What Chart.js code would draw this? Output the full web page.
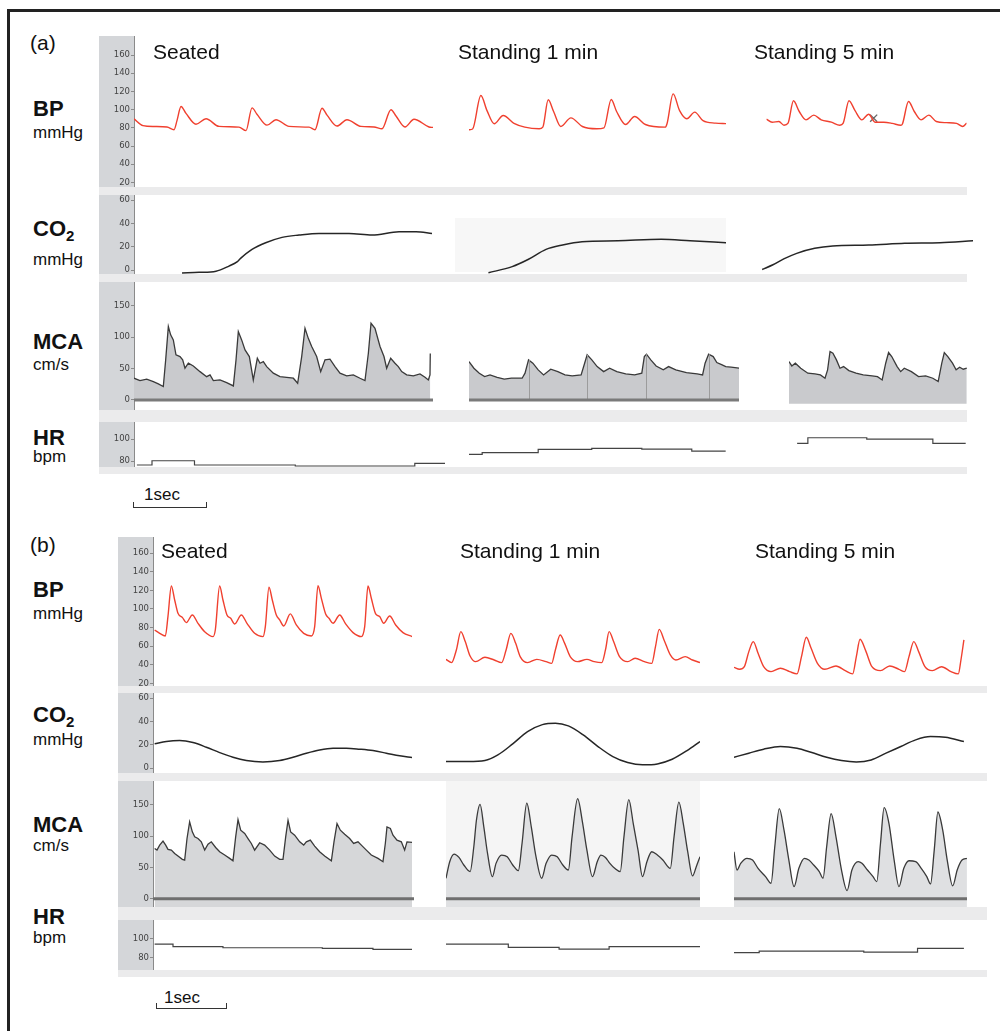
<!DOCTYPE html>
<html>
<head>
<meta charset="utf-8">
<script src="https://cdn.jsdelivr.net/npm/chart.js@4.4.1/dist/chart.umd.min.js"></script>
<style>
  body { margin: 0; background: #fff; }
  #page { position: relative; width: 1000px; height: 1031px; overflow: hidden; font-family: "Liberation Sans", Arial, sans-serif; color: #111; }
  #page canvas { position: absolute; }
  .box { position: absolute; }
  .txt { position: absolute; line-height: 1; white-space: nowrap; }
  .sig { font-weight: bold; font-size: 22px; }
  .unit { font-size: 17px; }
  .cond { font-size: 21px; }
  .sub { font-size: 15px; position: relative; top: 5px; }
  .bar { position: absolute; border: 1.5px solid #333; border-top: none; height: 5px; }
</style>
</head>
<body>
<div id="page"></div>
<script>
// ---- data: [time in s, value] ----
const conditions = ['Seated', 'Standing 1 min', 'Standing 5 min'];

const bpTicks = [20, 40, 60, 80, 100, 120, 140, 160];
const co2Ticks = [0, 20, 40, 60];
const mcaTicks = [0, 50, 100, 150];
const hrTicks = [80, 100];

// panel (a)
const bpSeatedA = [[0,90],[0.125,82.5],[0.278,81.5],[0.458,81],[0.556,78],[0.597,88],[0.653,103.5],[0.722,96],[0.861,84],[1.0,90],[1.181,81.6],[1.458,80.8],[1.556,77],[1.639,102],[1.708,95],[1.847,83],[1.972,89],[2.153,81.6],[2.431,80.8],[2.514,78],[2.611,101.5],[2.681,94],[2.819,82],[2.958,89],[3.153,81.6],[3.333,81],[3.444,79],[3.569,100],[3.639,93],[3.764,81],[3.889,89.5],[4.097,81],[4.153,80.5]];
const bpStand1A = [[0,77.9],[0.05,78.8],[0.165,115.6],[0.25,99],[0.35,84.5],[0.475,93.6],[0.625,85],[0.775,80.8],[0.975,79],[1.025,80.8],[1.1,110.9],[1.175,98],[1.275,81.5],[1.415,91],[1.575,81.5],[1.775,79],[1.875,80],[1.975,111.2],[2.05,98],[2.175,83.7],[2.3,92.5],[2.45,83.7],[2.725,80.8],[2.75,84.5],[2.835,117.4],[2.925,99],[3.025,90],[3.135,97.3],[3.25,88],[3.425,85.2],[3.575,84.6]];
const bpStand5A = [[0,88.9],[0.085,85],[0.185,86],[0.26,81.5],[0.32,84],[0.4,110.9],[0.485,98],[0.585,88],[0.7,93.6],[0.81,88],[0.96,85.2],[1.085,81.5],[1.135,84],[1.22,110.9],[1.31,99],[1.41,88],[1.51,94.7],[1.61,85],[1.735,85],[1.86,83.7],[1.985,81.5],[2.01,83],[2.1,110],[2.185,98],[2.285,88],[2.4,93.6],[2.51,86],[2.66,84.6],[2.81,83.7],[2.9,80],[2.96,84]];
const artefactA = [[1.585, 90]];

const co2SeatedA = [[0.667,-2.5],[0.903,-2],[1.139,-1],[1.319,3.4],[1.431,7],[1.48,10],[1.639,17.7],[1.829,23.4],[2.056,28],[2.292,30],[2.569,31.4],[2.986,31.4],[3.306,30],[3.681,32.8],[3.917,32.8],[4.139,31.4]];
const co2Stand1A = [[0.27,-2.3],[0.6,2.9],[0.82,9],[1.07,17.7],[1.3,21.5],[1.57,24.3],[2.07,25.1],[2.67,26.3],[3.07,25.1],[3.57,23.4]];
const co2Stand5A = [[0.03,0.5],[0.18,4.5],[0.33,9.5],[0.51,14.3],[0.76,18.6],[1.01,20.6],[1.51,21.4],[2.01,22.9],[2.5,23.4],[2.96,25.1]];

const mcaSeatedA = [[0,34.5],[0.083,30.8],[0.176,33],[0.269,29],[0.338,25.5],[0.407,21.2],[0.44,63.7],[0.477,116.8],[0.509,103.5],[0.546,95.5],[0.583,71.7],[0.639,69],[0.676,63.7],[0.708,50.4],[0.755,58.4],[0.824,54],[0.917,45],[1.009,37],[1.056,39.8],[1.102,30.8],[1.194,31.8],[1.287,27.6],[1.38,22.3],[1.417,63.7],[1.449,108.8],[1.495,95.5],[1.542,79.6],[1.602,69],[1.657,31.8],[1.713,66.3],[1.75,58.4],[1.796,61],[1.843,53],[1.935,42.5],[2.028,37],[2.12,36],[2.213,34.5],[2.273,26.5],[2.329,69],[2.375,114],[2.421,98],[2.468,85],[2.537,69],[2.593,45],[2.653,63.7],[2.722,64.8],[2.792,53],[2.861,42.5],[2.954,38.2],[3.046,39.8],[3.139,34.5],[3.208,30.8],[3.255,74.3],[3.292,122],[3.347,114],[3.417,85],[3.472,69],[3.509,50.4],[3.565,66.3],[3.625,58.4],[3.671,53],[3.718,45],[3.787,39.8],[3.88,38.2],[3.972,41.4],[4.042,36],[4.088,31.8],[4.111,39.8],[4.115,74]];
const mcaStand1A = [[0,61],[0.068,50.4],[0.143,42.5],[0.217,37],[0.292,39.8],[0.391,36],[0.49,33],[0.589,34.5],[0.738,34.5],[0.778,42.5],[0.827,63.7],[0.887,58.4],[0.961,47.8],[1.036,39.8],[1.135,48.8],[1.234,45],[1.333,39.8],[1.433,38.2],[1.557,39.8],[1.606,58.4],[1.641,71.7],[1.706,63.7],[1.78,53],[1.87,45],[1.953,50.4],[2.053,45],[2.177,41.4],[2.301,39.8],[2.4,42.5],[2.435,69],[2.465,72.7],[2.525,63.7],[2.599,54],[2.698,47.8],[2.772,53],[2.872,47.8],[3.02,43.5],[3.169,41.4],[3.244,39.8],[3.279,58.4],[3.328,72.7],[3.392,69],[3.442,59.4],[3.516,55.7],[3.566,53],[3.64,52],[3.754,50.4]];
const beatsStand1A = [0.827, 1.641, 2.465, 3.328];
const mcaStand5A = [[0,61],[0.039,54],[0.088,58.4],[0.163,50.4],[0.262,42.5],[0.361,41.4],[0.436,39.8],[0.5,34.5],[0.536,47.8],[0.57,77],[0.61,74.3],[0.659,63.7],[0.708,50.4],[0.758,53],[0.832,46.7],[0.931,42.5],[1.031,39.8],[1.155,38.2],[1.229,37],[1.294,31.8],[1.343,58.4],[1.383,75.4],[1.427,69],[1.502,53],[1.551,45],[1.601,50.4],[1.7,45],[1.799,37],[1.898,38.2],[1.998,34.5],[2.072,29.2],[2.122,58.4],[2.157,75.4],[2.206,69],[2.271,58.4],[2.321,47.8],[2.37,52],[2.42,48.8],[2.469,50.4]];

const hrSeatedA = [[0.04,76.4],[0.25,80.3],[0.84,76.4],[2.24,75.5],[3.9,77.9],[4.32,77.9]];
const hrStand1A = [[0,86],[0.183,87.6],[0.961,90.6],[1.705,91.5],[2.4,90.9],[3.094,89.1],[3.565,89.1]];
const hrStand5A = [[0.113,96],[0.262,101.2],[1.08,100],[1.998,96],[2.454,96]];

// panel (b)
const bpSeatedB = [[0.024,77.4],[0.097,73.8],[0.179,71],[0.217,92],[0.266,124.8],[0.314,109.7],[0.362,95.4],[0.425,91],[0.483,85.3],[0.57,93.6],[0.652,84.6],[0.749,75.6],[0.87,70.3],[0.903,77.4],[0.966,124.8],[1.014,109.7],[1.072,93.6],[1.126,90],[1.184,83.9],[1.28,93.6],[1.362,84.6],[1.473,73.8],[1.594,70.3],[1.628,81],[1.681,123.4],[1.729,109.7],[1.787,93.6],[1.836,88.2],[1.894,81.7],[1.99,94.7],[2.077,82.8],[2.184,73.8],[2.295,71],[2.343,81],[2.391,125.2],[2.44,111.5],[2.502,94.7],[2.551,90],[2.609,84.6],[2.705,93.6],[2.792,83.9],[2.899,74.6],[3.019,70.3],[3.068,81],[3.116,124.8],[3.164,111.5],[3.227,94.7],[3.285,91.8],[3.343,84.6],[3.43,92.5],[3.517,82.8],[3.623,74.6],[3.754,70.3]];
const bpStand1B = [[0,45.8],[0.081,42.3],[0.15,55.9],[0.215,75.6],[0.279,64.9],[0.349,49.4],[0.43,43.3],[0.564,48],[0.699,45.1],[0.806,42.3],[0.871,55.9],[0.94,73.8],[1.01,63],[1.075,48.7],[1.182,42.3],[1.316,45.8],[1.451,43.3],[1.531,41.5],[1.585,55.9],[1.655,72],[1.72,63],[1.8,48.7],[1.908,43.3],[2.042,45.8],[2.149,43.3],[2.257,42.3],[2.311,55.9],[2.364,75.6],[2.429,64.9],[2.515,48.7],[2.633,43.3],[2.74,46.9],[2.875,43.3],[2.982,41.5],[3.036,59.5],[3.09,78.1],[3.16,66.7],[3.251,50.5],[3.332,45.1],[3.466,48.7],[3.573,45.1],[3.681,42.3]];
const bpStand5B = [[0,37.2],[0.081,35.1],[0.15,37.9],[0.215,54.1],[0.279,64.9],[0.349,52.3],[0.43,37.9],[0.537,32.6],[0.672,36.2],[0.806,32.6],[0.913,30.1],[0.978,48.7],[1.048,69.5],[1.118,57.7],[1.209,41.5],[1.316,35.1],[1.478,38.7],[1.612,33.6],[1.72,30.1],[1.773,48.7],[1.827,67.4],[1.908,55.2],[1.999,37.9],[2.123,33.6],[2.257,38.7],[2.391,35.1],[2.472,32.6],[2.536,48.7],[2.606,64.9],[2.676,54.1],[2.767,37.9],[2.875,33.6],[3.009,37.9],[3.144,32.6],[3.251,30.1],[3.289,45.1],[3.332,66.7]];

const co2SeatedB = [[0.024,20.9],[0.193,22.9],[0.386,23.7],[0.58,22],[0.773,18],[0.966,13.4],[1.159,9.4],[1.353,6.6],[1.594,5.4],[1.836,6.6],[2.029,9.4],[2.222,12.9],[2.415,15.7],[2.609,17.1],[2.802,17.1],[2.995,16.3],[3.188,15.1],[3.382,12.9],[3.575,10.6],[3.754,9.1]];
const co2Stand1B = [[0,5.7],[0.322,5.7],[0.564,6.6],[0.752,11.4],[0.967,20.9],[1.182,31.4],[1.397,37.4],[1.585,38.6],[1.773,36.3],[1.988,28.6],[2.203,18.6],[2.418,10],[2.633,4.9],[2.848,2.9],[3.063,3.7],[3.278,7.7],[3.493,15.1],[3.681,22.9]];
const co2Stand5B = [[0,9.4],[0.215,12.9],[0.43,16.3],[0.672,18.6],[0.913,17.1],[1.128,13.4],[1.343,9.4],[1.558,6.6],[1.773,5.4],[1.988,7.1],[2.203,12.9],[2.418,18.6],[2.633,24.3],[2.848,27.1],[3.063,26.6],[3.332,22.9]];

const mcaSeatedB = [[0.024,80.5],[0.058,77.9],[0.097,85.9],[0.145,92.2],[0.184,85.9],[0.217,79],[0.266,77.9],[0.314,72.6],[0.362,68.4],[0.425,63.1],[0.459,62],[0.493,96.4],[0.531,123],[0.57,107],[0.604,99.1],[0.652,96.4],[0.7,91.1],[0.749,77.9],[0.797,87.4],[0.845,91.1],[0.908,82.1],[0.966,75.3],[1.039,70],[1.111,64.7],[1.159,60.9],[1.198,99.1],[1.232,126.7],[1.271,109.7],[1.329,104.4],[1.377,96.4],[1.425,88.5],[1.473,77.9],[1.546,89.6],[1.618,85.9],[1.691,77.9],[1.763,68.4],[1.836,63.1],[1.884,63.1],[1.923,99.1],[1.957,125.6],[1.995,107],[2.053,101.7],[2.126,91.1],[2.184,85.9],[2.222,91.1],[2.28,93.8],[2.343,84.3],[2.415,75.3],[2.488,68.4],[2.585,60.9],[2.623,91.1],[2.667,120.3],[2.715,109.7],[2.778,103.3],[2.85,96.4],[2.908,88.5],[2.971,91.1],[3.034,84.3],[3.092,77.9],[3.164,70],[3.261,64.7],[3.333,59.4],[3.367,88.5],[3.391,115],[3.44,112.4],[3.478,101.7],[3.536,93.8],[3.599,91.1],[3.647,77.9],[3.681,91.1],[3.754,90.1]];
const mcaStand1B = [[0,32.9],[0.054,59.4],[0.118,71.5],[0.188,66.2],[0.258,54.1],[0.349,43.5],[0.403,83.2],[0.441,125.6],[0.494,151],[0.548,115],[0.602,72.6],[0.672,35.5],[0.725,56.7],[0.806,70],[0.887,67.3],[0.967,54.1],[1.048,45],[1.102,88.5],[1.171,153],[1.236,115],[1.3,70],[1.386,32.9],[1.451,56.7],[1.531,70],[1.612,67.3],[1.693,54.1],[1.773,46.1],[1.827,99.1],[1.908,160],[1.977,123],[2.042,77.9],[2.123,35.5],[2.192,59.4],[2.246,70],[2.311,66.2],[2.375,56.7],[2.445,48.8],[2.525,43.5],[2.579,99.1],[2.649,158.5],[2.714,120.3],[2.783,77.9],[2.848,35.5],[2.912,59.4],[2.982,75.3],[3.063,70],[3.143,62],[3.251,48.8],[3.305,99.1],[3.375,154.7],[3.439,120.3],[3.503,75.3],[3.573,36.6],[3.627,51.4],[3.681,67.3]];
const mcaStand5B = [[0,75.3],[0.043,46.1],[0.097,56.7],[0.188,64.7],[0.269,62],[0.349,48.8],[0.457,35.5],[0.537,24.9],[0.591,83.2],[0.656,144.1],[0.725,109.7],[0.795,62],[0.87,19.6],[0.94,48.8],[1.021,64.7],[1.085,62],[1.155,54.1],[1.236,43.5],[1.29,32.9],[1.343,83.2],[1.408,136.2],[1.478,99.1],[1.558,46.1],[1.639,13.2],[1.709,46.1],[1.8,59.4],[1.854,56.7],[1.934,46.1],[2.015,35.5],[2.069,27.6],[2.123,88.5],[2.176,145.7],[2.246,120.3],[2.321,62],[2.391,19.6],[2.461,48.8],[2.536,60.9],[2.633,59.4],[2.714,48.8],[2.794,35.5],[2.848,23.8],[2.902,77.9],[2.955,138.8],[3.025,109.7],[3.09,62],[3.17,20.7],[3.235,46.1],[3.305,62],[3.375,64.7]];

const hrSeatedB = [[0.024,94.1],[0.29,91.4],[1.014,90.3],[2.454,89.7],[3.188,88.6],[3.754,88.6]];
const hrStand1B = [[0,94.1],[0.903,90.7],[1.639,89],[2.364,91.4],[3.681,91.4]];
const hrStand5B = [[0,85.2],[0.365,86.9],[1.881,85.9],[2.66,89.7],[3.332,89.7]];

// ---- layout ----
const AXIS_W = 35;
const STRIP = '#d4d6d9';
const BAND = '#ebebec';
const page = document.getElementById('page');

function box(x, y, w, h, color) {
  const d = document.createElement('div');
  d.className = 'box';
  d.style.cssText = `left:${x}px;top:${y}px;width:${w}px;height:${h}px;background:${color}`;
  page.appendChild(d);
}
function text(x, y, html, cls) {
  const d = document.createElement('div');
  d.className = 'txt ' + cls;
  d.style.left = x + 'px';
  d.style.top = y + 'px';
  d.innerHTML = html;
  page.appendChild(d);
}

// value of a trace at time t (linear between samples), for the beat markers
function valueAt(data, t) {
  for (let i = 1; i < data.length; i++) {
    if (data[i][0] >= t) {
      const [t0, v0] = data[i - 1], [t1, v1] = data[i];
      return v0 + (v1 - v0) * (t - t0) / (t1 - t0);
    }
  }
  return data[data.length - 1][1];
}

const panelPlugin = {
  id: 'panel',
  beforeDraw(chart, args, opts) {
    const { ctx, chartArea } = chart;
    if (opts.strip) {
      ctx.fillStyle = opts.strip;
      ctx.fillRect(0, 0, chartArea.left, chart.height);
    }
    if (opts.area) {
      ctx.fillStyle = opts.area;
      ctx.fillRect(chartArea.left, 0, chartArea.right - chartArea.left, chart.height);
    }
  },
  afterDatasetsDraw(chart, args, opts) {
    const { ctx, chartArea, scales } = chart;
    const y0 = scales.y.getPixelForValue(0);
    ctx.save();
    if (opts.beats) {
      ctx.strokeStyle = '#9c9c9c';
      ctx.lineWidth = 1;
      opts.beats.forEach(t => {
        const x = Math.round(scales.x.getPixelForValue(t)) + 0.5;
        ctx.beginPath();
        ctx.moveTo(x, y0);
        ctx.lineTo(x, scales.y.getPixelForValue(valueAt(opts.data, t)));
        ctx.stroke();
      });
    }
    if (opts.zero) {
      ctx.strokeStyle = opts.zero;
      ctx.lineWidth = 3;
      ctx.beginPath();
      ctx.moveTo(chartArea.left, y0);
      ctx.lineTo(chartArea.right, y0);
      ctx.stroke();
    }
    ctx.restore();
  }
};

function trace(o) {
  const axis = !!o.ticks;
  const canvas = document.createElement('canvas');
  const width = o.w + (axis ? AXIS_W : 0);
  canvas.width = width;
  canvas.height = o.h;
  canvas.style.left = (o.x - (axis ? AXIS_W : 0)) + 'px';
  canvas.style.top = o.y + 'px';
  page.appendChild(canvas);

  const datasets = [{
    data: o.data.map(p => ({ x: p[0], y: p[1] })),
    borderColor: o.color,
    borderWidth: o.lw || 1.3,
    pointRadius: 0,
    tension: 0,
    cubicInterpolationMode: o.smooth ? 'monotone' : 'default',
    stepped: o.stepped || false,
    fill: o.fill || false,
    backgroundColor: o.fillColor || 'transparent'
  }];
  if (o.marks) {
    datasets.push({
      data: o.marks.map(p => ({ x: p[0], y: p[1] })),
      showLine: false,
      pointStyle: 'crossRot',
      pointRadius: 5,
      pointBorderColor: '#6b6b6b',
      pointBorderWidth: 1.4
    });
  }

  new Chart(canvas, {
    type: 'line',
    data: { datasets },
    plugins: [panelPlugin],
    options: {
      responsive: false,
      animation: false,
      events: [],
      layout: { padding: 0 },
      plugins: {
        legend: { display: false },
        tooltip: { enabled: false },
        panel: {
          strip: axis ? STRIP : null, area: o.area || null, zero: o.zero || null,
          beats: o.beats || null, data: o.data
        }
      },
      scales: {
        x: { type: 'linear', display: false, min: 0, max: o.w / o.pps },
        y: {
          display: axis,
          min: o.min,
          max: o.max,
          afterFit(s) {
            s.width = axis ? AXIS_W : 0;
            s.paddingTop = 0;
            s.paddingBottom = 0;
          },
          afterBuildTicks(s) { if (o.ticks) s.ticks = o.ticks.map(v => ({ value: v })); },
          grid: { drawOnChartArea: false, drawTicks: true, tickLength: 3, color: '#8a8a8a' },
          border: { color: '#8a8a8a', width: 1 },
          ticks: { font: { family: 'DejaVu Sans', size: 8.5 }, color: '#444', padding: 1 }
        }
      }
    }
  });
}

const BP_RED = '#f0402f';
const DARK = '#262626';

// panel (a)
const A = { pps: 72, stripX: 99, bandEnd: 967 };
[[187, 8], [274, 8], [410, 12], [467, 7]].forEach(b => box(A.stripX, b[0], A.bandEnd - A.stripX, b[1], BAND));
box(455, 218, 271, 54, '#f7f7f7');

const rowsA = {
  bp:  { y: 36,  h: 151, min: 15,    max: 181 },
  co2: { y: 195, h: 79,  min: -3.4,  max: 64.3 },
  mca: { y: 282, h: 128, min: -16.1, max: 187.7 },
  hr:  { y: 422, h: 45,  min: 74.6,  max: 115.5 }
};
const bpA = { ...rowsA.bp, pps: A.pps, color: BP_RED, smooth: true, lw: 1.4 };
trace({ ...bpA, x: 134, w: 300, data: bpSeatedA, ticks: bpTicks });
trace({ ...bpA, x: 469, w: 257, data: bpStand1A });
trace({ ...bpA, x: 760, w: 213, data: bpStand5A, marks: artefactA });

const co2A = { ...rowsA.co2, pps: A.pps, color: DARK, smooth: true, lw: 1.5 };
trace({ ...co2A, x: 134, w: 300, data: co2SeatedA, ticks: co2Ticks });
trace({ ...co2A, x: 469, w: 257, data: co2Stand1A });
trace({ ...co2A, x: 760, w: 213, data: co2Stand5A });

const mcaA = { ...rowsA.mca, pps: A.pps, color: '#3a3a3a', lw: 1.3, fillColor: '#c9cacd' };
trace({ ...mcaA, x: 134, w: 299, data: mcaSeatedA, ticks: mcaTicks, fill: 'origin', zero: '#7a7a7a' });
trace({ ...mcaA, x: 469, w: 270, data: mcaStand1A, fill: 'origin', zero: '#7a7a7a', beats: beatsStand1A });
trace({ ...mcaA, x: 789, w: 178, data: mcaStand5A, fill: { value: -6 } });

const hrA = { ...rowsA.hr, pps: A.pps, color: '#444', lw: 1.2, stepped: true };
trace({ ...hrA, x: 134, w: 311, data: hrSeatedA, ticks: hrTicks });
trace({ ...hrA, x: 469, w: 257, data: hrStand1A });
trace({ ...hrA, x: 789, w: 177, data: hrStand5A });

// panel (b)
const B = { pps: 69, stripX: 118, bandEnd: 987 };
[[686, 7], [773, 8], [907, 13], [970, 7]].forEach(b => box(B.stripX, b[0], B.bandEnd - B.stripX, b[1], BAND));

const rowsB = {
  bp:  { y: 537, h: 149, min: 17.1,  max: 177.5 },
  co2: { y: 693, h: 80,  min: -4.1,  max: 64.5 },
  mca: { y: 781, h: 126, min: -13,   max: 188.3 },
  hr:  { y: 920, h: 50,  min: 67.4,  max: 118.9 }
};
const bpB = { ...rowsB.bp, pps: B.pps, color: BP_RED, smooth: true, lw: 1.4 };
trace({ ...bpB, x: 153, w: 259, data: bpSeatedB, ticks: bpTicks });
trace({ ...bpB, x: 446, w: 254, data: bpStand1B });
trace({ ...bpB, x: 734, w: 231, data: bpStand5B });

const co2B = { ...rowsB.co2, pps: B.pps, color: DARK, smooth: true, lw: 1.5 };
trace({ ...co2B, x: 153, w: 259, data: co2SeatedB, ticks: co2Ticks });
trace({ ...co2B, x: 446, w: 254, data: co2Stand1B });
trace({ ...co2B, x: 734, w: 231, data: co2Stand5B });

const mcaB = { ...rowsB.mca, pps: B.pps, color: '#3a3a3a', lw: 1.3, fill: 'start', zero: '#6f6f6f' };
trace({ ...mcaB, x: 153, w: 261, data: mcaSeatedB, ticks: mcaTicks, fillColor: '#d6d7d9' });
trace({ ...mcaB, x: 446, w: 254, data: mcaStand1B, fillColor: '#dfe0e2', area: '#f5f5f5', smooth: true });
trace({ ...mcaB, x: 734, w: 233, data: mcaStand5B, fillColor: '#dfe0e2', smooth: true });

const hrB = { ...rowsB.hr, pps: B.pps, color: '#444', lw: 1.2, stepped: true };
trace({ ...hrB, x: 153, w: 259, data: hrSeatedB, ticks: hrTicks });
trace({ ...hrB, x: 446, w: 254, data: hrStand1B });
trace({ ...hrB, x: 734, w: 231, data: hrStand5B });

// ---- labels ----
box(7, 9, 993, 2.5, '#222');
box(7, 9, 2.5, 1022, '#222');

text(30, 32, '(a)', 'cond');
text(30, 534, '(b)', 'cond');
[[40.5, [153, 458, 754]], [539.5, [161, 460, 755]]].forEach(([y, xs]) => {
  conditions.forEach((c, i) => text(xs[i], y, c, 'cond'));
});

const signals = [
  ['BP', 'mmHg'], ['CO<span class="sub">2</span>', 'mmHg'], ['MCA', 'cm/s'], ['HR', 'bpm']
];
const labelTopsA = [[98, 124], [218, 250.5], [330.5, 355.5], [426.5, 447.5]];
const labelTopsB = [[579, 604.5], [703.5, 730.5], [813.5, 836.5], [905.5, 929]];
[labelTopsA, labelTopsB].forEach(tops => {
  signals.forEach((s, i) => {
    text(33, tops[i][0], s[0], 'sig');
    text(33, tops[i][1], s[1], 'unit');
  });
});

// 1 s scale bars
[[133, 502, A.pps, 144, 485.5], [156, 1003, B.pps, 164, 989]].forEach(([x, y, w, tx, ty]) => {
  const d = document.createElement('div');
  d.className = 'bar';
  d.style.cssText = `left:${x}px;top:${y}px;width:${w}px`;
  page.appendChild(d);
  text(tx, ty, '1sec', 'unit');
});
</script>
</body>
</html>
